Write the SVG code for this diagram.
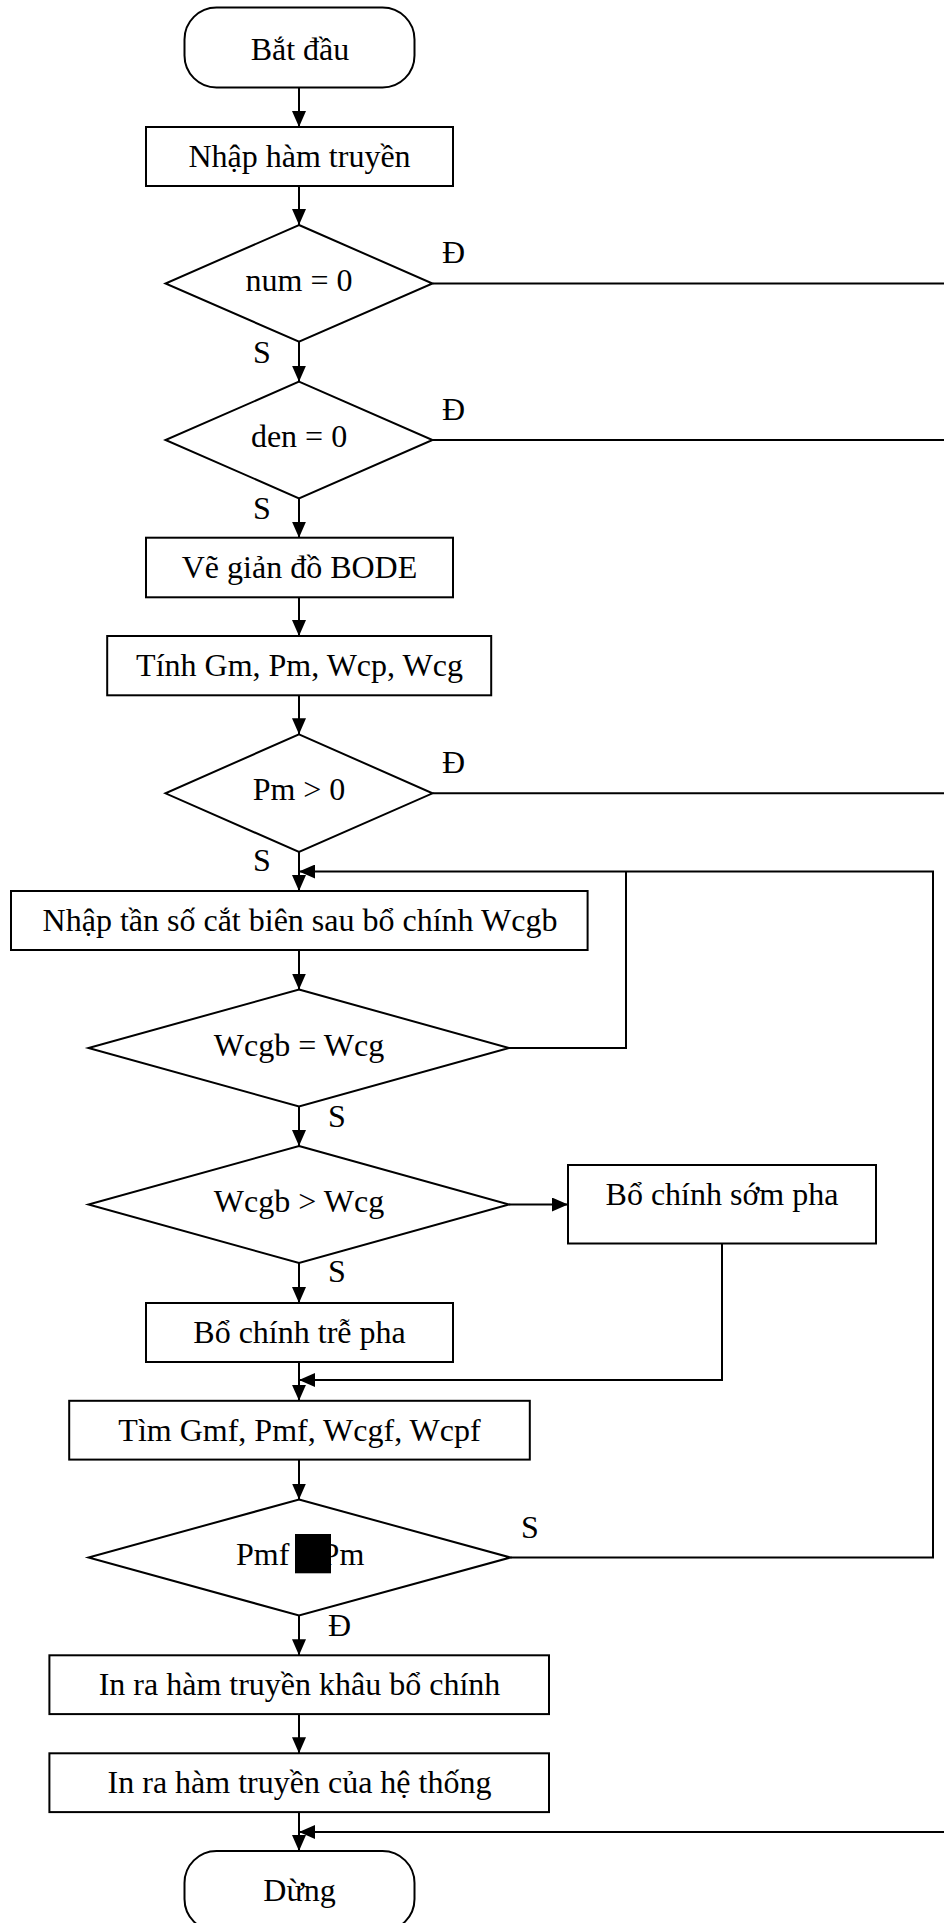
<svg xmlns="http://www.w3.org/2000/svg" width="944" height="1923" viewBox="0 0 944 1923">
<style>
.shape{fill:#fff;stroke:#000;stroke-width:2}
.ln{fill:none;stroke:#000;stroke-width:2}
text{font-family:"Liberation Serif","Times New Roman",serif;font-size:32px;fill:#000}
.c{text-anchor:middle}
</style>
<defs>
<marker id="ah" markerUnits="userSpaceOnUse" markerWidth="16" markerHeight="14" refX="16" refY="7" orient="auto">
<path d="M0,0 L16,7 L0,14 z" fill="#000"/>
</marker>
</defs>
<rect width="944" height="1923" fill="#fff"/>
<g id="connectors">
<path class="ln" d="M299,87.5 V127" marker-end="url(#ah)"/>
<path class="ln" d="M299,186 V225" marker-end="url(#ah)"/>
<path class="ln" d="M299,341.7 V381.7" marker-end="url(#ah)"/>
<path class="ln" d="M299,498.3 V537.7" marker-end="url(#ah)"/>
<path class="ln" d="M299,597.3 V636" marker-end="url(#ah)"/>
<path class="ln" d="M299,695.3 V734.3" marker-end="url(#ah)"/>
<path class="ln" d="M299,852 V891" marker-end="url(#ah)"/>
<path class="ln" d="M299,950 V989.5" marker-end="url(#ah)"/>
<path class="ln" d="M299,1106.5 V1146" marker-end="url(#ah)"/>
<path class="ln" d="M299,1263 V1303" marker-end="url(#ah)"/>
<path class="ln" d="M509,1204.5 H568" marker-end="url(#ah)"/>
<path class="ln" d="M299,1362 V1400.8" marker-end="url(#ah)"/>
<path class="ln" d="M299,1459.6 V1499.5" marker-end="url(#ah)"/>
<path class="ln" d="M299,1615.5 V1655.3" marker-end="url(#ah)"/>
<path class="ln" d="M299,1714 V1753.3" marker-end="url(#ah)"/>
<path class="ln" d="M299,1812 V1851" marker-end="url(#ah)"/>
<path class="ln" d="M510.5,1557.5 H933 V871.5 H299" marker-end="url(#ah)"/>
<path class="ln" d="M509,1048 H626 V871.5"/>
<path class="ln" d="M722,1243.5 V1380 H299" marker-end="url(#ah)"/>
<path class="ln" d="M432.5,283.5 H950"/>
<path class="ln" d="M432.5,440 H950"/>
<path class="ln" d="M432.5,793.3 H950"/>
<path class="ln" d="M950,1832 H299" marker-end="url(#ah)"/>
</g>
<g id="labels">
<text x="442" y="263">Đ</text>
<text x="253" y="362.5">S</text>
<text x="442" y="420">Đ</text>
<text x="253" y="518.5">S</text>
<text x="442" y="772.5">Đ</text>
<text x="253" y="870.5">S</text>
<text x="328" y="1127">S</text>
<text x="328" y="1281.5">S</text>
<text x="521" y="1537.5">S</text>
<text x="328" y="1635.5">Đ</text>
</g>
<g id="start">
<rect class="shape" x="184.5" y="7.5" width="230" height="80" rx="32" ry="32"/>
<text class="c" x="300" y="59.5">Bắt đầu</text>
</g>
<g id="input">
<rect class="shape" x="146" y="127" width="307" height="59"/>
<text class="c" x="299.5" y="167">Nhập hàm truyền</text>
</g>
<g id="num0">
<polygon class="shape" points="299,225 432.5,283.5 299,341.7 165.5,283.5"/>
<text class="c" x="299" y="290.5">num = 0</text>
</g>
<g id="den0">
<polygon class="shape" points="299,381.7 432.5,440 299,498.3 165.5,440"/>
<text class="c" x="299" y="447">den = 0</text>
</g>
<g id="bode">
<rect class="shape" x="146" y="537.7" width="307" height="59.6"/>
<text class="c" x="299.5" y="578">Vẽ giản đồ BODE</text>
</g>
<g id="margins">
<rect class="shape" x="107.2" y="636" width="384" height="59.3"/>
<text class="c" x="299.5" y="676">Tính Gm, Pm, Wcp, Wcg</text>
</g>
<g id="pm0">
<polygon class="shape" points="299,734.3 432.5,793.3 299,852 165.5,793.3"/>
<text class="c" x="299" y="800">Pm &gt; 0</text>
</g>
<g id="inputwcgb">
<rect class="shape" x="11" y="891" width="576.6" height="59"/>
<text class="c" x="300" y="930.5">Nhập tần số cắt biên sau bổ chính Wcgb</text>
</g>
<g id="eq">
<polygon class="shape" points="299,989.5 509,1048 299,1106.5 88.5,1048"/>
<text class="c" x="299" y="1056">Wcgb = Wcg</text>
</g>
<g id="gt">
<polygon class="shape" points="299,1146 509,1204.5 299,1263 88.5,1204.5"/>
<text class="c" x="299" y="1211.5">Wcgb &gt; Wcg</text>
</g>
<g id="lead">
<rect class="shape" x="568" y="1165" width="308" height="78.5"/>
<text class="c" x="722" y="1205">Bổ chính sớm pha</text>
</g>
<g id="lag">
<rect class="shape" x="146" y="1303" width="307" height="59"/>
<text class="c" x="299.5" y="1342.5">Bổ chính trễ pha</text>
</g>
<g id="find">
<rect class="shape" x="69.2" y="1400.8" width="460.6" height="58.8"/>
<text class="c" x="299.5" y="1440.5">Tìm Gmf, Pmf, Wcgf, Wcpf</text>
</g>
<g id="pmf">
<polygon class="shape" points="299,1499.5 510.5,1557.5 299,1615.5 88.5,1557.5"/>
<text x="236" y="1565">Pmf</text>
<text x="321.6" y="1565">Pm</text>
<rect x="295" y="1534" width="36" height="39.3" fill="#000"/>
</g>
<g id="out1">
<rect class="shape" x="49.4" y="1655.3" width="499.6" height="58.8"/>
<text class="c" x="299.5" y="1695">In ra hàm truyền khâu bổ chính</text>
</g>
<g id="out2">
<rect class="shape" x="49.4" y="1753.3" width="499.6" height="58.8"/>
<text class="c" x="299.5" y="1793">In ra hàm truyền của hệ thống</text>
</g>
<g id="stop">
<rect class="shape" x="184.5" y="1851" width="230" height="80" rx="32" ry="32"/>
<text class="c" x="299.5" y="1901">Dừng</text>
</g>
</svg>
